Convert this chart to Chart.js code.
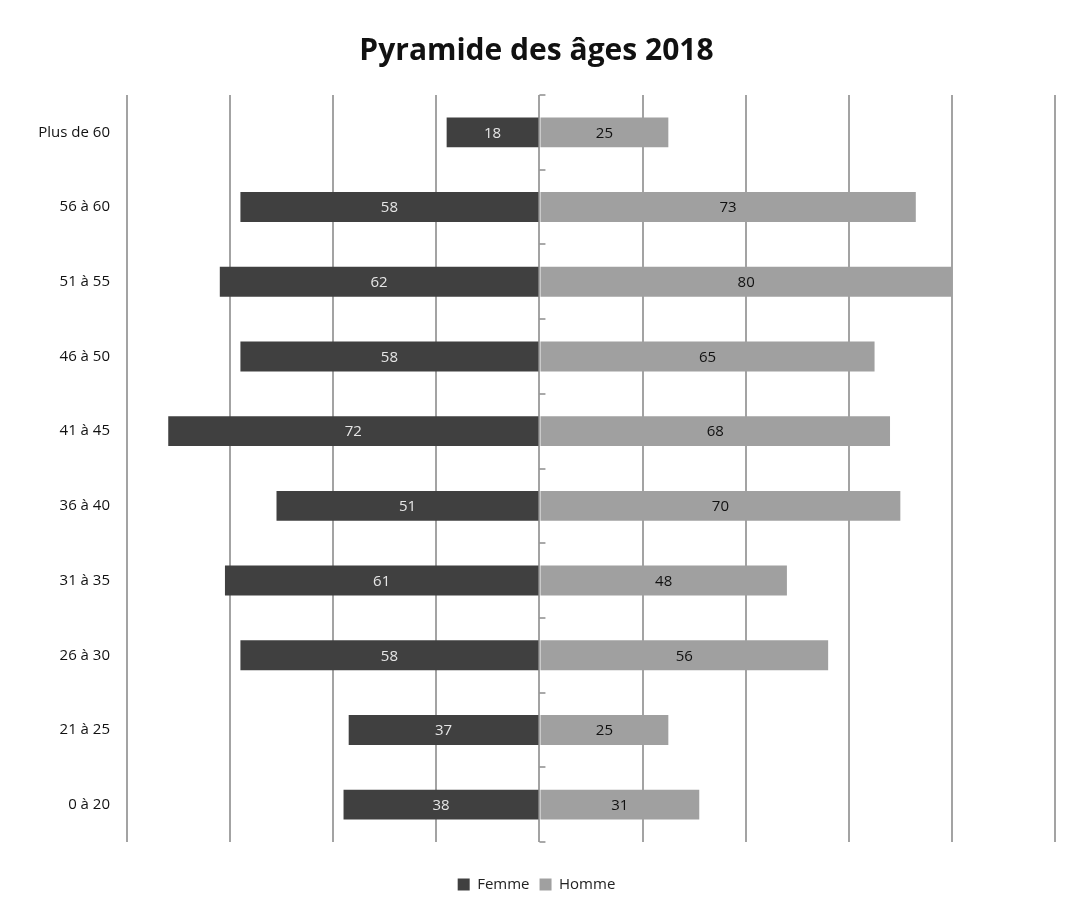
<!DOCTYPE html>
<html>
<head>
<meta charset="utf-8">
<script src="https://cdn.jsdelivr.net/npm/chart.js@4/dist/chart.umd.min.js"></script>
<style>
html,body{margin:0;padding:0;background:#fff;}
#wrap{width:1068px;height:909px;}
</style>
</head>
<body>
<div id="wrap"><canvas id="c" width="1068" height="909"></canvas></div>
<script>
const categories = ["Plus de 60","56 à 60","51 à 55","46 à 50","41 à 45","36 à 40","31 à 35","26 à 30","21 à 25","0 à 20"];
const femme = [18,58,62,58,72,51,61,58,37,38];
const homme = [25,73,80,65,68,70,48,56,25,31];
const xTicks = [-80,-60,-40,-20,0,20,40,60,80,100];

const valueLabels = {
  id: 'valueLabels',
  afterDatasetsDraw(chart) {
    const ctx = chart.ctx;
    ctx.save();
    ctx.font = '15px "Open Sans", sans-serif';
    ctx.textAlign = 'center';
    ctx.textBaseline = 'middle';
    chart.data.datasets.forEach((ds, di) => {
      const meta = chart.getDatasetMeta(di);
      meta.data.forEach((el, i) => {
        const v = Math.abs(ds.data[i]);
        ctx.fillStyle = di === 0 ? '#e6e6e6' : '#111111';
        ctx.fillText(String(v), (el.x + el.base) / 2, el.y + 1);
      });
    });
    ctx.restore();
  }
};

const centerTicks = {
  id: 'centerTicks',
  afterDatasetsDraw(chart) {
    const ctx = chart.ctx;
    const xs = chart.scales.x, ys = chart.scales.y;
    const x0 = xs.getPixelForValue(0);
    ctx.save();
    ctx.strokeStyle = '#8c8c8c';
    ctx.lineWidth = 1.5;
    for (let i = 0; i <= categories.length; i++) {
      const y = Math.round(ys.getPixelForValue(i - 0.5));
      ctx.beginPath();
      ctx.moveTo(x0, y);
      ctx.lineTo(x0 + 6, y);
      ctx.stroke();
    }
    ctx.restore();
  }
};

new Chart(document.getElementById('c'), {
  type: 'bar',
  data: {
    labels: categories,
    datasets: [
      { label: 'Femme', data: femme.map(v => -v), backgroundColor: '#404040', borderWidth: 0 },
      { label: 'Homme', data: homme, backgroundColor: '#a0a0a0', borderWidth: 0 }
    ]
  },
  options: {
    responsive: false,
    animation: false,
    indexAxis: 'y',
    layout: { padding: { left: 18, right: 13, top: 5, bottom: 7 } },
    datasets: { bar: { categoryPercentage: 1.0, barPercentage: 0.4 } },
    plugins: {
      title: {
        display: true,
        text: 'Pyramide des âges 2018',
        color: '#111',
        font: { family: '"Open Sans", sans-serif', size: 30, weight: 'bold', lineHeight: 1.2 },
        padding: { top: 28, bottom: 26 }
      },
      legend: {
        position: 'bottom',
        labels: {
          color: '#222',
          font: { family: '"Open Sans", sans-serif', size: 15 },
          boxWidth: 12, boxHeight: 12, padding: 10
        }
      },
      tooltip: { enabled: false }
    },
    scales: {
      x: {
        stacked: true,
        min: -80, max: 100,
        afterBuildTicks(scale) { scale.ticks = xTicks.map(v => ({ value: v })); },
        afterFit(scale) { scale.height = 25; },
        ticks: { display: false },
        grid: { color: '#a3a3a3', lineWidth: 2, drawTicks: false },
        border: { display: false }
      },
      y: {
        stacked: true,
        afterFit(scale) { scale.width = 109; },
        ticks: { color: '#111', font: { family: '"Open Sans", sans-serif', size: 15 }, padding: 17 },
        grid: { display: false, drawTicks: false },
        border: { display: false }
      }
    }
  },
  plugins: [valueLabels, centerTicks]
});
</script>
</body>
</html>
